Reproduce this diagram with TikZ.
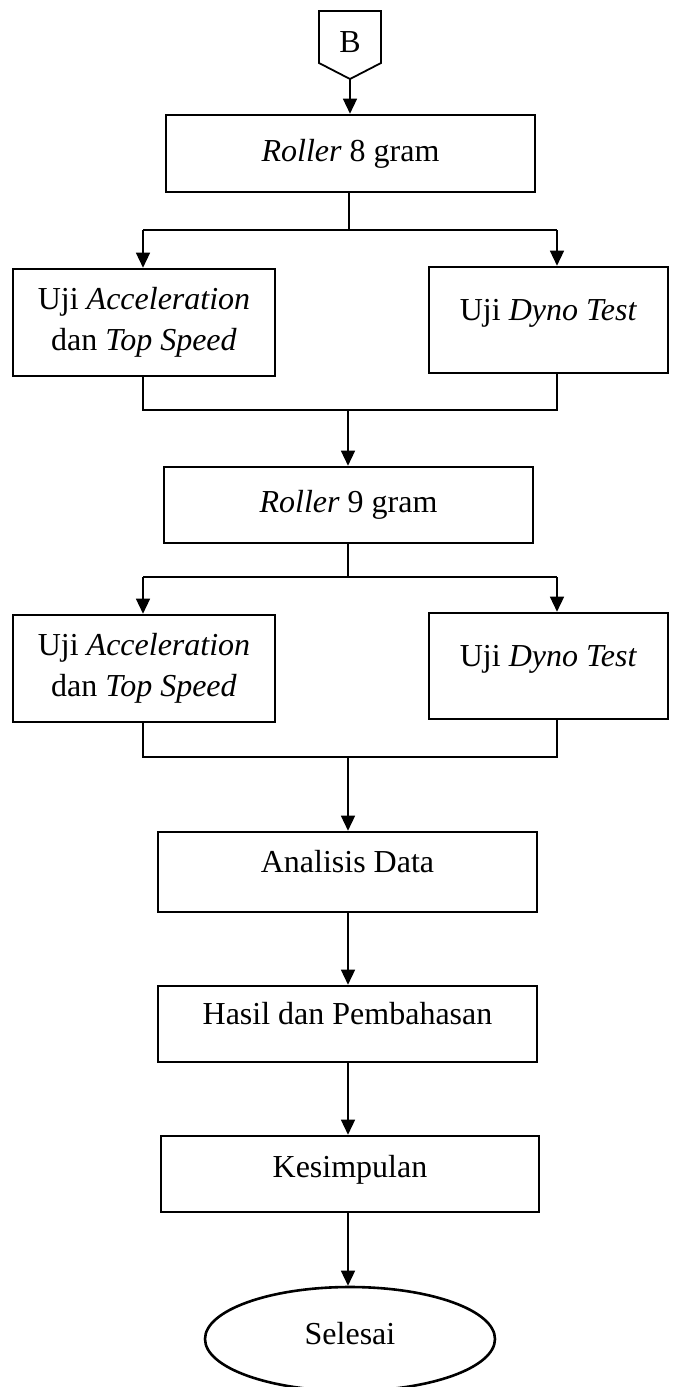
\documentclass[tikz,border=0pt]{standalone}
\usepackage{fontspec}
\setmainfont{Liberation Serif}
\usetikzlibrary{arrows.meta,shapes.geometric}
\begin{document}
\begin{tikzpicture}[x=1pt,y=-1pt,
  every node/.style={font=\fontsize{32}{41}\selectfont},
  box/.style={draw, rectangle, line width=2.6pt, inner sep=0pt, align=center},
  one/.style={text height=12pt, text depth=12pt},
  conn/.style={line width=1.4pt},
  arr/.style={conn, -{Triangle[width=14pt,length=15pt]}},
  term/.style={draw, ellipse, line width=2.6pt, inner sep=0pt, minimum width=290pt, minimum height=104pt, text height=15pt, text depth=5pt}
]
\useasboundingbox (0,0) rectangle (677,1387);

% off-page connector
\draw[line width=1.8pt] (319,11) -- (381,11) -- (381,63) -- (350,79) -- (319,63) -- cycle;
\node[anchor=base, inner sep=0pt] (conB) at (350,52) {B};
\coordinate (Bp) at (350,79);

\node[box, minimum width=369pt, minimum height=77pt] (r8) at (350.5,153.5) {\textit{Roller} 8 gram};
\node[box, minimum width=262pt, minimum height=107pt] (al1) at (144,322.5) {Uji \textit{Acceleration}\\dan \textit{Top Speed}};
\node[box, one, minimum width=239pt, minimum height=106pt] (dy1) at (548.5,320) {Uji \textit{Dyno Test}};
\node[box, minimum width=369pt, minimum height=76pt] (r9) at (348.5,505) {\textit{Roller} 9 gram};
\node[box, minimum width=262pt, minimum height=107pt] (al2) at (144,668.5) {Uji \textit{Acceleration}\\dan \textit{Top Speed}};
\node[box, one, minimum width=239pt, minimum height=106pt] (dy2) at (548.5,666) {Uji \textit{Dyno Test}};
\node[box, one, minimum width=379pt, minimum height=80pt] (an) at (347.5,872) {Analisis Data};
\node[box, one, minimum width=379pt, minimum height=76pt] (hp) at (347.5,1024) {Hasil dan Pembahasan};
\node[box, minimum width=378pt, minimum height=76pt, text height=14pt, text depth=8pt] (ks) at (350,1174) {Kesimpulan};
\node[term] (sel) at (350,1339) {Selesai};

% coordinates for branches
\coordinate (j1) at (349,230);
\coordinate (j1l) at (143,230);
\coordinate (j1r) at (557,230);
\coordinate (m1) at (348,410);
\coordinate (m1l) at (143,410);
\coordinate (m1r) at (557,410);
\coordinate (j2) at (348,577);
\coordinate (j2l) at (143,577);
\coordinate (j2r) at (557,577);
\coordinate (m2) at (348,757);
\coordinate (m2l) at (143,757);
\coordinate (m2r) at (557,757);

\draw[arr] (Bp) -- (Bp |- r8.north);
\draw[conn] (r8.south -| j1) -- (j1);
\draw[conn] (j1l) -- (j1r);
\draw[arr] (j1l) -- (j1l |- al1.north);
\draw[arr] (j1r) -- (j1r |- dy1.north);
\draw[conn] (m1l |- al1.south) -- (m1l) -- (m1r) -- (m1r |- dy1.south);
\draw[arr] (m1) -- (m1 |- r9.north);

\draw[conn] (r9.south -| j2) -- (j2);
\draw[conn] (j2l) -- (j2r);
\draw[arr] (j2l) -- (j2l |- al2.north);
\draw[arr] (j2r) -- (j2r |- dy2.north);
\draw[conn] (m2l |- al2.south) -- (m2l) -- (m2r) -- (m2r |- dy2.south);
\draw[arr] (m2) -- (m2 |- an.north);

\draw[arr] (an.south -| m2) -- (m2 |- hp.north);
\draw[arr] (hp.south -| m2) -- (m2 |- ks.north);
\draw[arr] (ks.south -| m2) -- (sel.north -| m2);
\end{tikzpicture}
\end{document}
